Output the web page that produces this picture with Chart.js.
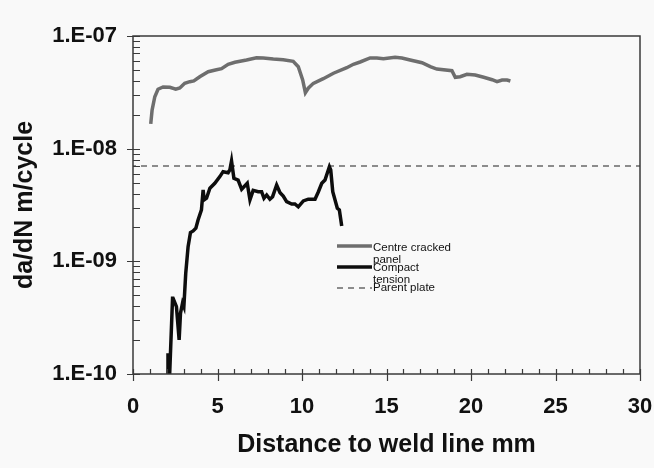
<!DOCTYPE html>
<html>
<head>
<meta charset="utf-8">
<script src="https://cdn.jsdelivr.net/npm/chart.js@4/dist/chart.umd.min.js"></script>
<style>
  html, body { margin: 0; padding: 0; background: #f9f9f9; }
  #wrap { width: 654px; height: 468px; position: relative; }
</style>
</head>
<body>
<div id="wrap"><canvas id="c"></canvas></div>
<script>
// ---- Data ----
const distCentre = [1.05,1.13,1.29,1.48,1.78,2.18,2.53,2.77,3.06,3.36,3.60,3.95,4.45,4.94,5.24,5.63,6.03,6.72,7.31,7.71,8.30,8.89,9.48,9.78,10.04,10.20,10.37,10.67,11.26,11.86,12.65,13.04,13.44,14.03,14.43,14.82,15.51,15.91,16.40,17.10,17.59,17.98,18.87,19.07,19.36,19.76,20.25,20.75,21.25,21.54,21.84,22.13,22.33];
const rateCentre = [1.66e-8,2.20e-8,2.89e-8,3.37e-8,3.53e-8,3.51e-8,3.37e-8,3.46e-8,3.80e-8,3.93e-8,3.99e-8,4.35e-8,4.82e-8,5.02e-8,5.13e-8,5.61e-8,5.84e-8,6.12e-8,6.42e-8,6.38e-8,6.25e-8,6.16e-8,5.96e-8,5.34e-8,4.07e-8,3.14e-8,3.44e-8,3.80e-8,4.18e-8,4.67e-8,5.23e-8,5.61e-8,5.88e-8,6.38e-8,6.38e-8,6.29e-8,6.47e-8,6.38e-8,6.12e-8,5.79e-8,5.34e-8,5.09e-8,4.92e-8,4.30e-8,4.35e-8,4.57e-8,4.51e-8,4.30e-8,4.09e-8,3.93e-8,4.07e-8,4.07e-8,3.99e-8];

const distCompact = [2.05,2.07,2.17,2.34,2.37,2.57,2.73,2.81,2.93,3.01,3.12,3.26,3.40,3.56,3.72,3.85,4.05,4.15,4.21,4.35,4.55,4.84,5.14,5.33,5.63,5.73,5.83,5.97,6.22,6.43,6.76,6.92,7.11,7.41,7.61,7.75,7.91,8.10,8.26,8.50,8.70,8.89,9.09,9.39,9.58,9.78,10.08,10.37,10.77,10.97,11.17,11.36,11.62,11.70,11.82,12.09,12.21,12.35];
const rateCompact = [1.0e-10,1.53e-10,1.0e-10,4.71e-10,4.71e-10,3.96e-10,2.01e-10,3.46e-10,4.25e-10,3.96e-10,7.83e-10,1.35e-9,1.80e-9,1.86e-9,1.97e-9,2.33e-9,2.86e-9,4.30e-9,3.51e-9,3.63e-9,4.46e-9,4.93e-9,5.65e-9,6.25e-9,6.12e-9,6.47e-9,7.78e-9,5.46e-9,5.27e-9,4.36e-9,4.93e-9,3.51e-9,4.26e-9,4.15e-9,4.15e-9,3.63e-9,3.88e-9,3.56e-9,3.75e-9,4.76e-9,4.07e-9,3.80e-9,3.39e-9,3.23e-9,3.23e-9,3.05e-9,3.44e-9,3.56e-9,3.56e-9,4.15e-9,4.93e-9,5.27e-9,6.92e-9,6.47e-9,4.15e-9,2.96e-9,2.86e-9,2.06e-9];

const distParent = [0, 30];
const rateParent = [7.0e-9, 7.0e-9];

const seriesNames = ['Centre cracked panel', 'Compact tension', 'Parent plate'];
const legendLines = [['Centre cracked', 'panel'], ['Compact', 'tension'], ['Parent plate']];
const xTickValues = [0, 5, 10, 15, 20, 25, 30];
const yTickValues = [1e-10, 1e-9, 1e-8, 1e-7];
const yTickLabels = ['1.E-10', '1.E-09', '1.E-08', '1.E-07'];
const xTitle = 'Distance to weld line mm';
const yTitle = 'da/dN m/cycle';

// ---- Build ----
const pts = (xs, ys) => xs.map((v, i) => ({ x: v, y: ys[i] }));
const FONT = '"Liberation Sans", Arial, sans-serif';

const bgPlugin = {
  id: 'bg',
  beforeDraw(chart) {
    const ctx = chart.ctx;
    ctx.save();
    ctx.fillStyle = '#f9f9f9';
    ctx.fillRect(0, 0, chart.width, chart.height);
    ctx.restore();
  }
};

const framePlugin = {
  id: 'frame',
  afterDatasetsDraw(chart) {
    const { ctx, chartArea: a, scales: { x, y } } = chart;
    ctx.save();
    ctx.strokeStyle = '#3a3a3a';
    ctx.lineWidth = 1.5;
    ctx.strokeRect(a.left, a.top, a.right - a.left, a.bottom - a.top);
    ctx.lineWidth = 1.2;
    ctx.beginPath();
    for (let v = x.min; v <= x.max + 1e-9; v += 1) {
      const px = Math.round(x.getPixelForValue(v)) + 0.5;
      const major = Math.abs(v % 5) < 1e-9;
      ctx.moveTo(px, a.bottom - 5);
      ctx.lineTo(px, major ? a.bottom + 7 : a.bottom);
    }
    for (let e = -10; e <= -7; e++) {
      for (let m = 1; m <= 9; m++) {
        if (e === -7 && m > 1) break;
        const val = m * Math.pow(10, e);
        const py = Math.round(y.getPixelForValue(val)) + 0.5;
        ctx.moveTo(m === 1 ? a.left - 6 : a.left, py);
        ctx.lineTo(a.left + 7, py);
      }
    }
    ctx.stroke();
    ctx.restore();
  }
};

const legendPlugin = {
  id: 'customLegend',
  afterDraw(chart) {
    const ctx = chart.ctx;
    const x0 = 337, x1 = 372, tx = 373;
    const rows = [
      { ly: 246, ty: [248, 260] },
      { ly: 267, ty: [268, 280] },
      { ly: 288, ty: [288] }
    ];
    ctx.save();
    ctx.font = '11.5px ' + FONT;
    ctx.textBaseline = 'middle';
    ctx.textAlign = 'left';
    chart.data.datasets.forEach((ds, i) => {
      const r = rows[i];
      ctx.beginPath();
      ctx.strokeStyle = ds.borderColor;
      ctx.lineWidth = ds.borderWidth;
      ctx.setLineDash(ds.borderDash || []);
      ctx.moveTo(x0, r.ly);
      ctx.lineTo(x1, r.ly);
      ctx.stroke();
      ctx.setLineDash([]);
      ctx.fillStyle = '#111';
      legendLines[i].forEach((t, k) => ctx.fillText(t, tx, r.ty[k]));
    });
    ctx.restore();
  }
};

new Chart(document.getElementById('c'), {
  type: 'line',
  data: {
    datasets: [
      { label: seriesNames[0], data: pts(distCentre, rateCentre), borderColor: '#6e6e6e', borderWidth: 3.5, pointRadius: 0, tension: 0, fill: false },
      { label: seriesNames[1], data: pts(distCompact, rateCompact), borderColor: '#0d0d0d', borderWidth: 3.5, pointRadius: 0, tension: 0, fill: false },
      { label: seriesNames[2], data: pts(distParent, rateParent), borderColor: '#8c8c8c', borderWidth: 2, borderDash: [6, 5], borderDashOffset: -8, pointRadius: 0, tension: 0, fill: false }
    ]
  },
  options: {
    responsive: true,
    maintainAspectRatio: false,
    animation: false,
    devicePixelRatio: 1,
    layout: { padding: { top: 36, right: 14, left: 0, bottom: 0 } },
    plugins: { legend: { display: false }, tooltip: { enabled: false } },
    scales: {
      x: {
        type: 'linear',
        min: 0, max: 30,
        afterBuildTicks: s => { s.ticks = xTickValues.map(v => ({ value: v })); },
        afterFit: s => { s.height = 94; s.paddingLeft = 0; s.paddingRight = 0; },
        grid: { display: false, drawTicks: false },
        border: { display: false },
        ticks: { padding: 20, color: '#111', font: { family: FONT, size: 22, weight: 'bold' }, maxRotation: 0, autoSkip: false },
        title: { display: true, text: xTitle, color: '#111', font: { family: FONT, size: 25, weight: 'bold' }, padding: { top: 0, bottom: 8 } }
      },
      y: {
        type: 'logarithmic',
        min: 1e-10, max: 1e-7,
        afterBuildTicks: s => { s.ticks = yTickValues.map(v => ({ value: v })); },
        afterFit: s => { s.width = 133; s.paddingTop = 0; s.paddingBottom = 0; },
        grid: { display: false, drawTicks: false },
        border: { display: false },
        ticks: {
          padding: 16, color: '#111', font: { family: FONT, size: 22, weight: 'bold' }, autoSkip: false,
          callback: v => { const i = yTickValues.findIndex(t => Math.abs(Math.log10(t) - Math.log10(v)) < 1e-6); return i >= 0 ? yTickLabels[i] : ''; }
        },
        title: { display: true, text: yTitle, color: '#111', font: { family: FONT, size: 25, weight: 'bold' }, padding: { top: 10, bottom: 0 } }
      }
    }
  },
  plugins: [bgPlugin, framePlugin, legendPlugin]
});
</script>
</body>
</html>
